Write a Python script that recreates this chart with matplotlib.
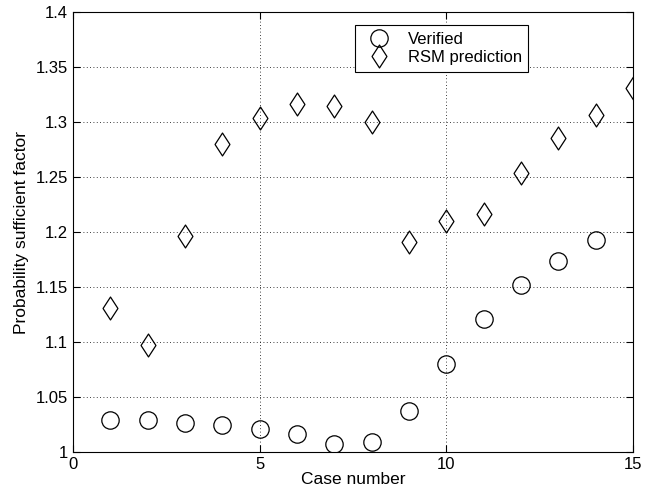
import matplotlib
matplotlib.use("Agg")
import matplotlib.pyplot as plt
from matplotlib.path import Path

plt.rcParams['font.family'] = ['Liberation Sans', 'DejaVu Sans']

case_verified = [1, 2, 3, 4, 5, 6, 7, 8, 9, 10, 11, 12, 13, 14]
verified = [1.029, 1.029, 1.027, 1.025, 1.021, 1.017, 1.008, 1.009, 1.038,
            1.080, 1.121, 1.152, 1.174, 1.193]
case_rsm = [1, 2, 3, 4, 5, 6, 7, 8, 9, 10, 11, 12, 13, 14, 15]
rsm = [1.131, 1.098, 1.197, 1.280, 1.304, 1.317, 1.315, 1.300, 1.191,
       1.210, 1.217, 1.254, 1.286, 1.307, 1.331]
xticks = [0, 5, 10, 15]
yticks = [1, 1.05, 1.1, 1.15, 1.2, 1.25, 1.3, 1.35, 1.4]
ytick_labels = ['1', '1.05', '1.1', '1.15', '1.2', '1.25', '1.3', '1.35', '1.4']

diamond = Path([(0, 1), (0.65, 0), (0, -1), (-0.65, 0), (0, 1)],
               [Path.MOVETO, Path.LINETO, Path.LINETO, Path.LINETO, Path.CLOSEPOLY])

fig = plt.figure(figsize=(6.6, 4.96), dpi=100)
ax = fig.add_axes([0.1105, 0.088, 0.8485, 0.887])

ax.plot(case_verified, verified, linestyle='none', marker='o', ms=12.5,
        mfc='none', mec='black', mew=0.9, label='Verified')
ax.plot(case_rsm, rsm, linestyle='none', marker=diamond, ms=16.5,
        mfc='none', mec='black', mew=0.9, label='RSM prediction')

ax.set_xlim(0, 15)
ax.set_ylim(1, 1.4)
ax.set_xticks(xticks)
ax.set_yticks(yticks)
ax.set_yticklabels(ytick_labels)
ax.grid(True, linestyle=(0, (1, 3)), color='black', linewidth=0.6)
ax.tick_params(direction='in', top=True, right=True, labelsize=12, length=5)
for s in ax.spines.values():
    s.set_linewidth(0.8)

ax.set_xlabel('Case number', fontsize=12.5, labelpad=0)
ax.set_ylabel('Probability sufficient factor', fontsize=12.5, labelpad=5)

leg = ax.legend(loc='upper left', bbox_to_anchor=(0.504, 0.971), borderaxespad=0,
                fontsize=12, frameon=True, fancybox=False, framealpha=1,
                edgecolor='black', handletextpad=0.75, borderpad=0.4,
                labelspacing=0.2, handlelength=2.0)
leg.get_frame().set_linewidth(0.8)

fig.savefig('out.png', dpi=100)
